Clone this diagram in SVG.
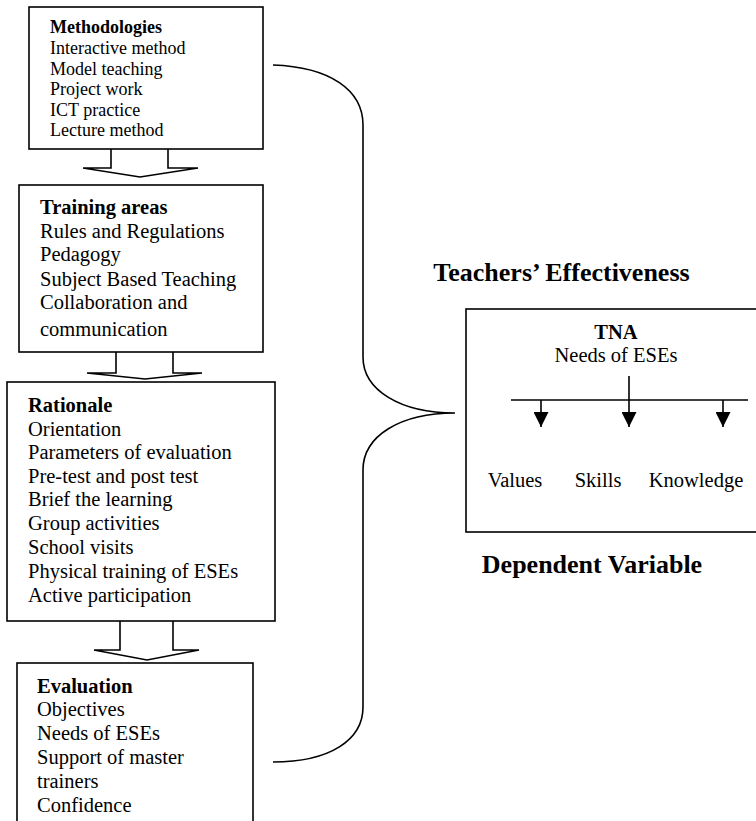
<svg xmlns="http://www.w3.org/2000/svg" width="756" height="821" viewBox="0 0 756 821">
<style>
.box{fill:#fff;stroke:#000;stroke-width:1.6}
.ln{fill:none;stroke:#000;stroke-width:1.6}
.t{font-family:"Liberation Serif","Times New Roman",serif;fill:#000}
.s18{font-size:18px}
.s20{font-size:20.5px}
.b{font-weight:bold}
.h{font-size:26px;font-weight:bold}
</style>
<defs>
<marker id="ah" viewBox="0 0 10 10" refX="10" refY="5" markerWidth="15" markerHeight="15" markerUnits="userSpaceOnUse" orient="auto">
<path d="M0,0 L10,5 L0,10 Z" fill="#000"/>
</marker>
</defs>
<rect width="756" height="821" fill="#fff"/>

<g id="connectors">
<polyline class="ln" points="111,149 111,168 83,168 140,177 198,168 168,168 168,149"/>
<polyline class="ln" points="116,352 116,373 87,373 145,379 202,373 173,373 173,352"/>
<polyline class="ln" points="120,621 120,650 94,650 147,660 199,650 173,650 173,621"/>
<path id="brace" class="ln" d="M273,65 C330,67 363,90 363,125 L363,357 C363,390 400,413 455,413 C400,413 363,436 363,470 L363,707 C363,740 330,762 273,762"/>
</g>

<g id="methodologies">
<rect class="box" x="29" y="7" width="234" height="142"/>
<text class="t s18" x="50" y="33"><tspan class="b">Methodologies</tspan><tspan x="50" y="54">Interactive method</tspan><tspan x="50" y="74.5">Model teaching</tspan><tspan x="50" y="95">Project work</tspan><tspan x="50" y="115.5">ICT practice</tspan><tspan x="50" y="136">Lecture method</tspan></text>
</g>

<g id="training-areas">
<rect class="box" x="19" y="185" width="244" height="167"/>
<text class="t s20" x="40" y="214"><tspan class="b">Training areas</tspan><tspan x="40" y="238">Rules and Regulations</tspan><tspan x="40" y="261">Pedagogy</tspan><tspan x="40" y="286">Subject Based Teaching</tspan><tspan x="40" y="309">Collaboration and</tspan><tspan x="40" y="336">communication</tspan></text>
</g>

<g id="rationale">
<rect class="box" x="7" y="382" width="268" height="239"/>
<text class="t s20" x="28" y="412"><tspan class="b">Rationale</tspan><tspan x="28" y="435.5">Orientation</tspan><tspan x="28" y="459">Parameters of evaluation</tspan><tspan x="28" y="483">Pre-test and post test</tspan><tspan x="28" y="506">Brief the learning</tspan><tspan x="28" y="530">Group activities</tspan><tspan x="28" y="554">School visits</tspan><tspan x="28" y="577.5">Physical training of ESEs</tspan><tspan x="28" y="601.5">Active participation</tspan></text>
</g>

<g id="evaluation">
<rect class="box" x="17" y="663" width="236" height="170"/>
<text class="t s20" x="37" y="693"><tspan class="b">Evaluation</tspan><tspan x="37" y="716">Objectives</tspan><tspan x="37" y="739.5">Needs of ESEs</tspan><tspan x="37" y="763.5">Support of master</tspan><tspan x="37" y="788">trainers</tspan><tspan x="37" y="811.5">Confidence</tspan></text>
</g>

<g id="teachers-effectiveness">
<text class="t h" x="561.5" y="281" text-anchor="middle">Teachers’ Effectiveness</text>
</g>

<g id="tna">
<rect class="box" x="466" y="309" width="300" height="223"/>
<text class="t s20 b" x="616" y="339" text-anchor="middle">TNA</text>
<text class="t s20" x="616" y="362" text-anchor="middle">Needs of ESEs</text>
<line class="ln" x1="511" y1="400" x2="748" y2="400"/>
<line class="ln" x1="629" y1="376" x2="629" y2="427" marker-end="url(#ah)"/>
<line class="ln" x1="541" y1="400" x2="541" y2="427" marker-end="url(#ah)"/>
<line class="ln" x1="723" y1="400" x2="723" y2="427" marker-end="url(#ah)"/>
<text class="t s20" x="515" y="487" text-anchor="middle">Values</text>
<text class="t s20" x="598" y="487" text-anchor="middle">Skills</text>
<text class="t s20" x="696" y="487" text-anchor="middle">Knowledge</text>
</g>

<g id="dependent-variable">
<text class="t h" x="592" y="573" text-anchor="middle">Dependent Variable</text>
</g>
</svg>
